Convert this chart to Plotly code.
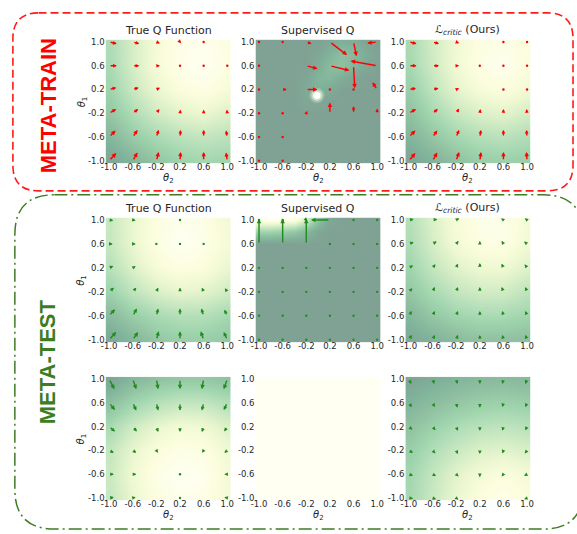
import plotly.graph_objects as go

W, H = 577, 534

# ---------------- grid / ticks ----------------
GRID = [-1.0, -0.6, -0.2, 0.2, 0.6, 1.0]          # theta_2 (x) and theta_1 (y) sample points
ROWS_TOP = [1.0, 0.6, 0.2, -0.2, -0.6, -1.0]       # rows listed top -> bottom
FINE = [-1.0, -0.8, -0.6, -0.4, -0.2, 0.0, 0.2, 0.4, 0.6, 0.8, 1.0]
FINE_TOP = FINE[::-1]
TICK_TEXT = ["-1.0", "-0.6", "-0.2", "0.2", "0.6", "1.0"]

COL_TITLES = ["True Q Function", "Supervised Q", "<i>ℒ</i><sub><i>critic</i></sub> (Ours)"]

# ---------------- META-TRAIN: true Q ----------------
TRAIN_TRUE_Z = [
    [0.48, 0.30, 0.14, 0.05, 0.03, 0.08],
    [0.50, 0.30, 0.13, 0.04, 0.00, 0.07],
    [0.56, 0.36, 0.20, 0.10, 0.06, 0.13],
    [0.66, 0.48, 0.33, 0.24, 0.20, 0.27],
    [0.80, 0.62, 0.50, 0.42, 0.38, 0.42],
    [0.97, 0.82, 0.66, 0.57, 0.53, 0.55],
]
TRAIN_TRUE_U = [
    [0.13, 0.11, 0.06, 0.02, 0.005, -0.01],
    [0.13, 0.11, 0.06, 0.01, 0.005, -0.01],
    [0.12, 0.10, 0.06, 0.01, 0.003, -0.01],
    [0.12, 0.09, 0.05, 0.01, 0.0, -0.01],
    [0.11, 0.08, 0.04, 0.01, 0.0, -0.02],
    [0.12, 0.08, 0.04, 0.01, 0.0, -0.02],
]
TRAIN_TRUE_V = [
    [-0.03, -0.03, -0.02, -0.02, -0.01, -0.02],
    [0.0, 0.0, 0.0, 0.0, 0.005, 0.01],
    [0.03, 0.03, 0.03, 0.03, 0.02, 0.03],
    [0.07, 0.07, 0.07, 0.06, 0.06, 0.06],
    [0.11, 0.12, 0.12, 0.12, 0.12, 0.11],
    [0.13, 0.14, 0.15, 0.15, 0.15, 0.14],
]

# ---------------- META-TRAIN: supervised Q (fine grid) ----------------
TRAIN_SUP_Z = [
    [1, 1, 1, 1, 1, 1, 0.95, 0.88, 0.90, 0.97, 1],
    [1, 1, 1, 1, 1, 0.95, 0.85, 0.72, 0.78, 0.90, 1],
    [1, 1, 1, 1, 1, 0.90, 0.75, 0.70, 0.82, 0.95, 1],
    [1, 1, 1, 1, 0.95, 0.82, 0.80, 0.90, 0.97, 1, 1],
    [1, 1, 1, 1, 0.92, 0.85, 0.92, 1, 1, 1, 1],
    [1, 1, 1, 1, 0.95, 0.95, 1, 1, 1, 1, 1],
    [1, 1, 1, 1, 1, 1, 1, 1, 1, 1, 1],
    [1, 1, 1, 1, 1, 1, 1, 1, 1, 1, 1],
    [1, 1, 1, 1, 1, 1, 1, 1, 1, 1, 1],
    [1, 1, 1, 1, 1, 1, 1, 1, 1, 1, 1],
    [1, 1, 1, 1, 1, 1, 1, 1, 1, 1, 1],
]
TRAIN_SUP_SPOT_X = [-0.02]
TRAIN_SUP_SPOT_Y = [0.10]
TRAIN_SUP_U = [
    [0.005, 0.005, 0.09, 0.29, 0.05, -0.17],
    [0.005, 0.03, 0.19, 0.33, 0.02, -0.45],
    [0.005, 0.07, 0.19, 0.005, 0.005, -0.08],
    [0.005, 0.02, 0.02, 0.0, 0.0, 0.0],
    [0.005, 0.005, 0.0, 0.0, 0.0, 0.0],
    [0.005, 0.005, 0.0, 0.0, 0.0, 0.0],
]
TRAIN_SUP_V = [
    [0.0, 0.0, -0.03, -0.22, -0.24, -0.02],
    [0.0, 0.0, -0.05, -0.08, -0.38, 0.08],
    [0.0, 0.0, 0.0, 0.0, 0.0, 0.12],
    [0.0, 0.0, 0.04, 0.18, 0.12, 0.08],
    [0.0, 0.0, 0.04, 0.03, 0.03, 0.04],
    [0.0, 0.0, 0.03, 0.03, 0.03, 0.03],
]

# ---------------- META-TRAIN: ours ----------------
TRAIN_OURS_Z = [
    [0.50, 0.32, 0.17, 0.08, 0.05, 0.10],
    [0.52, 0.33, 0.16, 0.06, 0.02, 0.09],
    [0.60, 0.40, 0.23, 0.13, 0.09, 0.16],
    [0.70, 0.52, 0.37, 0.28, 0.24, 0.31],
    [0.82, 0.66, 0.53, 0.45, 0.42, 0.47],
    [0.97, 0.84, 0.70, 0.61, 0.58, 0.60],
]
TRAIN_OURS_U = [
    [0.13, 0.11, 0.05, 0.01, 0.003, 0.0],
    [0.13, 0.11, 0.05, 0.01, 0.003, 0.0],
    [0.12, 0.10, 0.05, 0.01, 0.0, 0.0],
    [0.12, 0.09, 0.05, 0.01, 0.0, -0.01],
    [0.11, 0.08, 0.05, 0.02, 0.0, -0.01],
    [0.11, 0.08, 0.05, 0.02, 0.0, -0.01],
]
TRAIN_OURS_V = [
    [-0.03, -0.03, -0.02, -0.02, -0.01, -0.02],
    [0.0, 0.0, 0.0, 0.0, 0.003, 0.01],
    [0.02, 0.02, 0.02, 0.02, 0.02, 0.02],
    [0.07, 0.07, 0.08, 0.07, 0.07, 0.07],
    [0.11, 0.11, 0.12, 0.12, 0.12, 0.12],
    [0.13, 0.14, 0.15, 0.15, 0.15, 0.15],
]

# ---------------- META-TEST task 1: true Q ----------------
TEST1_TRUE_Z = [
    [0.36, 0.20, 0.08, 0.03, 0.06, 0.16],
    [0.37, 0.20, 0.07, 0.00, 0.04, 0.14],
    [0.44, 0.27, 0.13, 0.07, 0.10, 0.20],
    [0.56, 0.40, 0.28, 0.22, 0.24, 0.32],
    [0.76, 0.60, 0.50, 0.45, 0.45, 0.52],
    [0.95, 0.80, 0.66, 0.60, 0.60, 0.65],
]
TEST1_TRUE_U = [
    [0.07, 0.05, 0.02, 0.0, -0.02, -0.04],
    [0.06, 0.05, 0.02, 0.0, -0.02, -0.03],
    [0.07, 0.05, 0.02, 0.0, -0.02, -0.03],
    [0.08, 0.06, 0.03, 0.0, -0.03, -0.04],
    [0.10, 0.07, 0.03, 0.0, -0.04, -0.05],
    [0.12, 0.09, 0.04, 0.0, -0.05, -0.06],
]
TEST1_TRUE_V = [
    [-0.01, -0.01, -0.01, 0.005, -0.01, -0.01],
    [0.0, 0.0, 0.0, 0.003, 0.0, 0.0],
    [0.03, 0.03, 0.03, 0.03, 0.03, 0.03],
    [0.07, 0.07, 0.07, 0.07, 0.07, 0.06],
    [0.11, 0.12, 0.12, 0.12, 0.12, 0.10],
    [0.13, 0.13, 0.14, 0.14, 0.14, 0.13],
]

# ---------------- META-TEST task 1: supervised Q (fine grid) ----------------
TEST1_SUP_Z = [
    [0.00, 0.00, 0.02, 0.05, 0.30, 0.70, 0.95, 1, 1, 1, 1],
    [0.55, 0.55, 0.60, 0.65, 0.80, 0.95, 1, 1, 1, 1, 1],
    [1, 1, 1, 1, 1, 1, 1, 1, 1, 1, 1],
    [1, 1, 1, 1, 1, 1, 1, 1, 1, 1, 1],
    [1, 1, 1, 1, 1, 1, 1, 1, 1, 1, 1],
    [1, 1, 1, 1, 1, 1, 1, 1, 1, 1, 1],
    [1, 1, 1, 1, 1, 1, 1, 1, 1, 1, 1],
    [1, 1, 1, 1, 1, 1, 1, 1, 1, 1, 1],
    [1, 1, 1, 1, 1, 1, 1, 1, 1, 1, 1],
    [1, 1, 1, 1, 1, 1, 1, 1, 1, 1, 1],
    [1, 1, 1, 1, 1, 1, 1, 1, 1, 1, 1],
]
TEST1_SUP_U = [
    [0.003, 0.003, 0.02, -0.32, 0.003, 0.003],
    [0.0, 0.0, 0.0, 0.0, 0.0, 0.0],
    [0.0, 0.0, 0.0, 0.0, 0.0, 0.0],
    [0.0, 0.0, 0.0, 0.0, 0.0, 0.0],
    [0.0, 0.0, 0.0, 0.0, 0.0, 0.0],
    [0.0, 0.0, 0.0, 0.0, 0.0, 0.0],
]
TEST1_SUP_V = [
    [0.003, 0.003, -0.02, 0.0, 0.003, 0.003],
    [0.42, 0.42, 0.42, 0.003, 0.003, 0.003],
    [0.003, 0.003, 0.003, 0.003, 0.003, 0.003],
    [0.003, 0.003, 0.003, 0.003, 0.003, 0.003],
    [0.003, 0.003, 0.003, 0.003, 0.003, 0.003],
    [0.003, 0.003, 0.003, 0.003, 0.003, 0.003],
]

# ---------------- META-TEST task 1: ours ----------------
TEST1_OURS_Z = [
    [0.45, 0.27, 0.12, 0.04, 0.04, 0.14],
    [0.48, 0.30, 0.15, 0.07, 0.06, 0.16],
    [0.55, 0.38, 0.25, 0.18, 0.17, 0.26],
    [0.65, 0.50, 0.38, 0.32, 0.32, 0.40],
    [0.80, 0.65, 0.55, 0.50, 0.50, 0.55],
    [0.95, 0.85, 0.75, 0.70, 0.70, 0.72],
]
TEST1_OURS_U = [
    [0.08, 0.08, 0.05, 0.0, -0.04, -0.04],
    [0.08, 0.07, 0.04, 0.0, -0.03, -0.05],
    [0.07, 0.05, 0.03, 0.0, -0.03, -0.04],
    [0.06, 0.04, 0.03, 0.0, -0.03, -0.03],
    [0.05, 0.04, 0.03, 0.0, -0.02, -0.03],
    [0.05, 0.04, 0.03, 0.0, -0.02, -0.03],
]
TEST1_OURS_V = [
    [0.01, 0.01, 0.03, 0.04, 0.03, 0.03],
    [0.03, 0.04, 0.05, 0.05, 0.05, 0.04],
    [0.04, 0.06, 0.07, 0.08, 0.07, 0.06],
    [0.06, 0.08, 0.08, 0.08, 0.08, 0.08],
    [0.08, 0.08, 0.08, 0.08, 0.08, 0.08],
    [0.08, 0.08, 0.08, 0.08, 0.08, 0.08],
]

# ---------------- META-TEST task 2: true Q ----------------
TEST2_TRUE_Z = [
    [0.97, 0.80, 0.70, 0.65, 0.65, 0.70],
    [0.72, 0.55, 0.44, 0.38, 0.38, 0.46],
    [0.50, 0.33, 0.21, 0.15, 0.17, 0.27],
    [0.38, 0.21, 0.10, 0.05, 0.07, 0.17],
    [0.35, 0.17, 0.05, 0.00, 0.02, 0.14],
    [0.37, 0.20, 0.08, 0.03, 0.05, 0.16],
]
TEST2_TRUE_U = [
    [0.09, 0.06, 0.03, 0.0, -0.03, -0.06],
    [0.10, 0.06, 0.03, 0.0, -0.03, -0.06],
    [0.10, 0.07, 0.03, 0.0, -0.03, -0.05],
    [0.08, 0.06, 0.03, 0.0, -0.03, -0.05],
    [0.08, 0.06, 0.03, 0.003, -0.03, -0.05],
    [0.08, 0.05, 0.02, 0.003, -0.02, -0.05],
]
TEST2_TRUE_V = [
    [-0.17, -0.17, -0.17, -0.17, -0.17, -0.17],
    [-0.12, -0.13, -0.13, -0.13, -0.13, -0.12],
    [-0.08, -0.08, -0.09, -0.09, -0.09, -0.08],
    [-0.04, -0.04, -0.04, -0.03, -0.04, -0.04],
    [0.0, 0.0, 0.0, 0.0, 0.0, 0.0],
    [0.01, 0.01, 0.01, 0.0, 0.01, 0.01],
]

# ---------------- META-TEST task 2: supervised Q (blank) ----------------
TEST2_SUP_Z = [[0.0] * 6 for _ in range(6)]
TEST2_SUP_U = [[0.0] * 6 for _ in range(6)]
TEST2_SUP_V = [[0.0] * 6 for _ in range(6)]

# ---------------- META-TEST task 2: ours ----------------
TEST2_OURS_Z = [
    [0.98, 0.90, 0.83, 0.78, 0.76, 0.78],
    [0.84, 0.74, 0.66, 0.60, 0.58, 0.60],
    [0.70, 0.58, 0.48, 0.42, 0.40, 0.43],
    [0.60, 0.46, 0.35, 0.27, 0.24, 0.28],
    [0.54, 0.38, 0.24, 0.15, 0.10, 0.15],
    [0.52, 0.35, 0.20, 0.09, 0.04, 0.10],
]
TEST2_OURS_U = [
    [0.04, 0.03, 0.02, 0.0, -0.02, -0.03],
    [0.05, 0.04, 0.02, 0.0, -0.02, -0.03],
    [0.06, 0.05, 0.03, 0.0, -0.02, -0.03],
    [0.07, 0.05, 0.03, 0.0, -0.02, -0.04],
    [0.07, 0.06, 0.04, 0.0, -0.03, -0.05],
    [0.07, 0.06, 0.04, 0.01, -0.03, -0.05],
]
TEST2_OURS_V = [
    [-0.08, -0.08, -0.08, -0.08, -0.08, -0.08],
    [-0.07, -0.07, -0.08, -0.08, -0.07, -0.07],
    [-0.05, -0.06, -0.07, -0.07, -0.07, -0.06],
    [-0.04, -0.05, -0.06, -0.06, -0.05, -0.05],
    [-0.02, -0.03, -0.04, -0.05, -0.04, -0.03],
    [-0.01, -0.02, -0.03, -0.04, -0.03, -0.02],
]

# ---------------- styling ----------------
# YlGn palette softened (half-transparent over white), mid tones pulled a little greener
COLORSCALE = [
    [0.00, "#fffff2"], [0.10, "#fbfddc"], [0.20, "#ecf7d1"], [0.30, "#d6eec6"],
    [0.42, "#bbe2bc"], [0.55, "#a0d5ae"], [0.70, "#91c1a1"], [0.85, "#80b39b"],
    [1.00, "#80a294"],
]
RED = "#ff0000"
GREEN = "#228b22"
BOX_RED = "#ff1a1a"
BOX_GREEN = "#3d7d22"
TEXT_COLOR = "#262626"

COL_PX = [(102, 229), (254, 381), (406, 533)]
ROW_PX = [(37, 162), (217, 343), (378, 503)]
XR = [-1.06, 1.06]
YR = [-1.04, 1.04]
SCALE_PX = (COL_PX[0][1] - COL_PX[0][0]) / (XR[1] - XR[0])


def px_x(p):
    return p / W


def px_y(p):
    return 1 - p / H


PANELS = [
    # row, col, z, fine?, U, V, arrow colour
    (0, 0, TRAIN_TRUE_Z, False, TRAIN_TRUE_U, TRAIN_TRUE_V, RED),
    (0, 1, TRAIN_SUP_Z, True, TRAIN_SUP_U, TRAIN_SUP_V, RED),
    (0, 2, TRAIN_OURS_Z, False, TRAIN_OURS_U, TRAIN_OURS_V, RED),
    (1, 0, TEST1_TRUE_Z, False, TEST1_TRUE_U, TEST1_TRUE_V, GREEN),
    (1, 1, TEST1_SUP_Z, True, TEST1_SUP_U, TEST1_SUP_V, GREEN),
    (1, 2, TEST1_OURS_Z, False, TEST1_OURS_U, TEST1_OURS_V, GREEN),
    (2, 0, TEST2_TRUE_Z, False, TEST2_TRUE_U, TEST2_TRUE_V, GREEN),
    (2, 1, TEST2_SUP_Z, False, TEST2_SUP_U, TEST2_SUP_V, GREEN),
    (2, 2, TEST2_OURS_Z, False, TEST2_OURS_U, TEST2_OURS_V, GREEN),
]

fig = go.Figure()
annotations = []
layout_axes = {}
tickfont = dict(family="DejaVu Sans", size=8.5, color=TEXT_COLOR)

for k, (r, c, z, fine, U, V, acol) in enumerate(PANELS, start=1):
    xa = "x" if k == 1 else f"x{k}"
    ya = "y" if k == 1 else f"y{k}"
    coords_top = FINE_TOP if fine else ROWS_TOP
    coords = FINE if fine else GRID
    fig.add_trace(go.Heatmap(
        x=coords, y=coords_top[::-1], z=z[::-1],
        zmin=0, zmax=1, colorscale=COLORSCALE, zsmooth="best",
        showscale=False, hoverinfo="skip", xaxis=xa, yaxis=ya,
    ))
    x0, x1 = COL_PX[c]
    y0, y1 = ROW_PX[r]
    layout_axes["xaxis" if k == 1 else f"xaxis{k}"] = dict(
        domain=[px_x(x0), px_x(x1)], anchor="free", position=px_y(y1 - 3), range=XR,
        tickvals=GRID, ticktext=TICK_TEXT, ticks="", showgrid=False,
        zeroline=False, showline=False, tickfont=tickfont, fixedrange=True,
    )
    layout_axes["yaxis" if k == 1 else f"yaxis{k}"] = dict(
        domain=[px_y(y1), px_y(y0)], anchor=xa, range=YR,
        tickvals=GRID, ticktext=TICK_TEXT, ticks="", showgrid=False,
        zeroline=False, showline=False, tickfont=tickfont, fixedrange=True,
    )
    # quiver arrows (tail at grid point)
    dot_x, dot_y = [], []
    for i, gy in enumerate(ROWS_TOP):
        for j, gx in enumerate(GRID):
            u, v = U[i][j], V[i][j]
            if u == 0 and v == 0:
                continue
            length_px = (u * u + v * v) ** 0.5 * SCALE_PX
            if length_px < 1.2:
                dot_x.append(gx)
                dot_y.append(gy)
                continue
            annotations.append(dict(
                x=gx + u, y=gy + v, ax=gx, ay=gy,
                xref=xa, yref=ya, axref=xa, ayref=ya,
                text="", showarrow=True, arrowhead=2,
                arrowsize=max(0.5, min(0.62, length_px / 15.0)),
                arrowwidth=1.45, arrowcolor=acol, standoff=0,
            ))
    if dot_x:
        fig.add_trace(go.Scatter(
            x=dot_x, y=dot_y, mode="markers", xaxis=xa, yaxis=ya,
            marker=dict(size=2.4, color=acol), hoverinfo="skip",
        ))
    if k == 2:
        for size, colr in ((15, "rgba(245,255,225,0.25)"), (11, "rgba(250,255,235,0.5)"),
                           (7, "#ffffff")):
            fig.add_trace(go.Scatter(
                x=TRAIN_SUP_SPOT_X, y=TRAIN_SUP_SPOT_Y, mode="markers", xaxis=xa, yaxis=ya,
                marker=dict(size=size, color=colr, line=dict(width=0)),
                hoverinfo="skip",
            ))

# column titles (top two rows)
for r in (0, 1):
    for c in range(3):
        annotations.append(dict(
            x=px_x((COL_PX[c][0] + COL_PX[c][1]) / 2), y=px_y(ROW_PX[r][0] - 1),
            xref="paper", yref="paper", xanchor="center", yanchor="bottom",
            text=COL_TITLES[c], showarrow=False,
            font=dict(family="DejaVu Sans", size=11, color=TEXT_COLOR),
        ))

# axis labels
for r in (0, 2):
    for c in range(3):
        annotations.append(dict(
            x=px_x((COL_PX[c][0] + COL_PX[c][1]) / 2), y=px_y(ROW_PX[r][1] + 15),
            xref="paper", yref="paper", xanchor="center", yanchor="middle",
            text="<i>θ</i><sub>2</sub>", showarrow=False,
            font=dict(family="DejaVu Sans", size=10, color=TEXT_COLOR),
        ))
for r in range(3):
    annotations.append(dict(
        x=px_x(78), y=px_y((ROW_PX[r][0] + ROW_PX[r][1]) / 2),
        xref="paper", yref="paper", xanchor="center", yanchor="middle",
        text="<i>θ</i><sub>1</sub>", showarrow=False, textangle=-90,
        font=dict(family="DejaVu Sans", size=10, color=TEXT_COLOR),
    ))

# group labels
annotations.append(dict(
    x=px_x(44), y=px_y(104), xref="paper", yref="paper",
    xanchor="center", yanchor="middle",
    text="<b>META-TRAIN</b>", showarrow=False, textangle=-90,
    font=dict(family="Liberation Sans", size=22, color="#ff0000"),
))
annotations.append(dict(
    x=px_x(44), y=px_y(363), xref="paper", yref="paper",
    xanchor="center", yanchor="middle",
    text="<b>META-TEST</b>", showarrow=False, textangle=-90,
    font=dict(family="Liberation Sans", size=22, color=BOX_GREEN),
))


def rounded_path(x0, y0, x1, y1, rad):
    X = lambda p: f"{px_x(p):.5f}"
    Y = lambda p: f"{px_y(p):.5f}"
    return (
        f"M {X(x0 + rad)},{Y(y0)} L {X(x1 - rad)},{Y(y0)} Q {X(x1)},{Y(y0)} {X(x1)},{Y(y0 + rad)} "
        f"L {X(x1)},{Y(y1 - rad)} Q {X(x1)},{Y(y1)} {X(x1 - rad)},{Y(y1)} "
        f"L {X(x0 + rad)},{Y(y1)} Q {X(x0)},{Y(y1)} {X(x0)},{Y(y1 - rad)} "
        f"L {X(x0)},{Y(y0 + rad)} Q {X(x0)},{Y(y0)} {X(x0 + rad)},{Y(y0)} Z"
    )


shapes = [
    dict(type="path", xref="paper", yref="paper", path=rounded_path(8, 10, 576, 190, 26),
         line=dict(color=BOX_RED, width=1.6, dash="8px,4px"), layer="above"),
    dict(type="path", xref="paper", yref="paper", path=rounded_path(10, 194, 586, 532, 40),
         line=dict(color=BOX_GREEN, width=1.5, dash="13px,4px,2px,4px"), layer="above"),
]

fig.update_layout(
    width=W, height=H, margin=dict(l=0, r=0, t=0, b=0),
    paper_bgcolor="white", plot_bgcolor="white", showlegend=False,
    annotations=annotations, shapes=shapes, **layout_axes,
)

fig.write_html(
    "out.html",
    config={"displayModeBar": False},
    post_script="document.body.style.margin='0px';document.body.style.padding='0px';",
)
